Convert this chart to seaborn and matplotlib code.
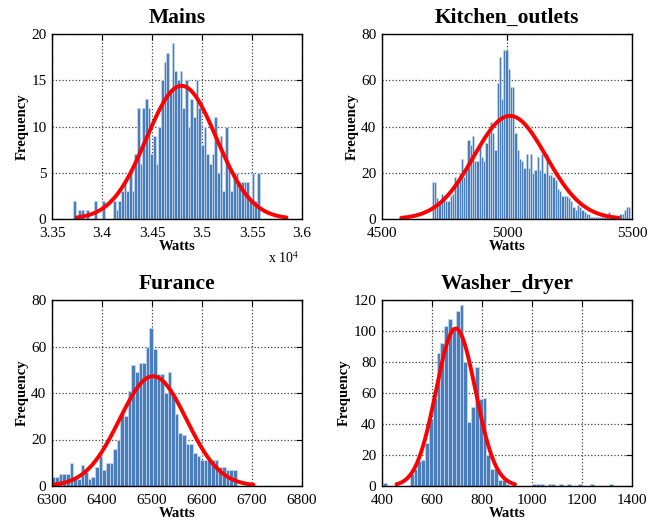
import numpy as np
import pandas as pd
import matplotlib
matplotlib.use('Agg')
import matplotlib.pyplot as plt
from matplotlib.ticker import FuncFormatter, MultipleLocator
import seaborn as sns

# ---------------------------------------------------------------
# DATA
# ---------------------------------------------------------------

TITLES = ['Mains', 'Kitchen_outlets', 'Furance', 'Washer_dryer']

# histogram bins: [first edge, last edge] + counts per bin
MAINS_RANGE  = [33710, 35577]
MAINS_COUNTS = [2, 0, 1, 1, 0, 1, 0, 0, 2, 0,
                0, 2, 0, 0, 0, 2, 1, 2, 3, 4,
                3, 5, 3, 7, 12, 6, 12, 13, 12, 7,
                9, 6, 10, 15, 17, 18, 14, 19, 16, 15,
                16, 12, 15, 10, 13, 11, 15, 12, 8, 10,
                7, 6, 7, 11, 5, 9, 3, 10, 6, 3,
                5, 5, 4, 4, 4, 4, 2, 5, 2, 5]

KITCHEN_RANGE  = [4699, 5494]
KITCHEN_COUNTS = [16, 16, 9, 8, 11, 10, 8, 8, 10, 11,
                  18, 16, 20, 26, 18, 22, 34, 32, 36, 25,
                  25, 33, 27, 25, 33, 37, 42, 37, 30, 59,
                  70, 52, 73, 73, 65, 57, 57, 37, 30, 26,
                  25, 22, 28, 22, 28, 20, 21, 27, 21, 28,
                  20, 28, 19, 19, 18, 17, 13, 12, 10, 10,
                  10, 9, 8, 5, 4, 6, 5, 4, 3, 2,
                  2, 1, 1, 1, 1, 1, 1, 1, 2, 3,
                  1, 0, 0, 1, 2, 2, 4, 5, 5]

FURANCE_RANGE  = [6299, 6669]
FURANCE_COUNTS = [4, 4, 5, 5, 5, 10, 3, 3, 9, 6,
                  3, 4, 8, 13, 7, 10, 10, 16, 20, 31,
                  30, 41, 52, 49, 53, 53, 60, 68, 59, 48,
                  48, 40, 49, 40, 31, 23, 22, 18, 18, 14,
                  13, 11, 11, 11, 11, 11, 8, 8, 7, 7, 7]

WASHER_RANGE  = [404, 1323]
WASHER_COUNTS = [2, 0, 0, 0, 0, 0, 0, 8, 11, 16,
                 17, 28, 43, 57, 86, 92, 103, 108, 101, 113,
                 117, 80, 41, 51, 77, 56, 57, 20, 11, 11,
                 4, 4, 1, 0, 0, 0, 0, 0, 0, 1,
                 1, 1, 0, 1, 1, 0, 1, 0, 1, 0,
                 0, 1, 0, 0, 1, 0, 0, 0, 0, 1]

# fitted normal curve per panel: mean, std, peak height
FIT_MU    = [34795, 5012, 6502, 695]
FIT_SIGMA = [350, 145, 67, 79]
FIT_PEAK  = [14.4, 44.6, 47.2, 101.6]

# axis limits and tick steps
X_LIMITS = [(33500, 36000), (4500, 5500), (6300, 6800), (400, 1400)]
X_STEPS  = [500, 500, 100, 200]
Y_LIMITS = [(0, 20), (0, 80), (0, 80), (0, 120)]
Y_STEPS  = [5, 20, 20, 20]

RANGES = [MAINS_RANGE, KITCHEN_RANGE, FURANCE_RANGE, WASHER_RANGE]
COUNTS = [MAINS_COUNTS, KITCHEN_COUNTS, FURANCE_COUNTS, WASHER_COUNTS]

BAR_COLOR  = '#4a7dbb'
EDGE_COLOR = '#c9daee'

# axes boxes in figure pixels: left, top, right, bottom
W, H = 661, 523
BOXES = [(52, 34, 302, 219), (382, 34, 632, 219),
         (52, 300, 302, 486), (382, 300, 632, 486)]

# ---------------------------------------------------------------
# PLOT
# ---------------------------------------------------------------

sns.set_style('white')
plt.rcParams['font.family'] = ['Liberation Serif', 'DejaVu Serif']
plt.rcParams['mathtext.fontset'] = 'stix'
plt.rcParams['text.color'] = 'black'
plt.rcParams['axes.labelcolor'] = 'black'

fig = plt.figure(figsize=(W / 100, H / 100), dpi=100)

for i in range(4):
    l, t, r, b = BOXES[i]
    ax = fig.add_axes([l / W, 1 - b / H, (r - l) / W, (b - t) / H])

    lo, hi = RANGES[i]
    nbins = len(COUNTS[i])
    edges = np.linspace(lo, hi, nbins + 1)
    df = pd.DataFrame({'watts': (edges[:-1] + edges[1:]) / 2,
                       'count': COUNTS[i]})

    sns.histplot(data=df, x='watts', weights='count', bins=nbins,
                 binrange=(lo, hi), ax=ax,
                 color=BAR_COLOR, edgecolor=EDGE_COLOR, linewidth=0.5,
                 alpha=1)

    mu, sd = FIT_MU[i], FIT_SIGMA[i]
    xs = np.linspace(mu - 3 * sd, mu + 3 * sd, 200)
    ys = FIT_PEAK[i] * np.exp(-0.5 * ((xs - mu) / sd) ** 2)
    sns.lineplot(x=xs, y=ys, ax=ax, color='red', linewidth=2.8)

    ax.set_xlim(*X_LIMITS[i])
    ax.set_ylim(*Y_LIMITS[i])
    ax.xaxis.set_major_locator(MultipleLocator(X_STEPS[i]))
    ax.yaxis.set_major_locator(MultipleLocator(Y_STEPS[i]))

    ax.set_axisbelow(True)
    ax.grid(True, linestyle=':', color='0.25', linewidth=0.9)
    for sp in ax.spines.values():
        sp.set_visible(True)
        sp.set_color('black')
        sp.set_linewidth(1.0)
    ax.tick_params(direction='in', top=True, right=True, length=4,
                   width=0.8, labelsize=11, colors='black')
    ax.tick_params(axis='x', pad=5.5)
    ax.tick_params(axis='y', pad=4)

    ax.set_title(TITLES[i], fontsize=15.5, fontweight='bold', pad=8)
    ax.set_xlabel('Watts', fontsize=10.5, fontweight='bold', labelpad=0)
    ax.set_ylabel('Frequency', fontsize=10.5, fontweight='bold', labelpad=2)

    if i == 0:
        ax.xaxis.set_major_formatter(FuncFormatter(lambda v, p: f'{v / 1e4:g}'))

fig.text(268 / W, 1 - 266 / H, r'x 10$^4$', fontsize=10, ha='left', va='bottom')

fig.savefig('out.png', dpi=100)
